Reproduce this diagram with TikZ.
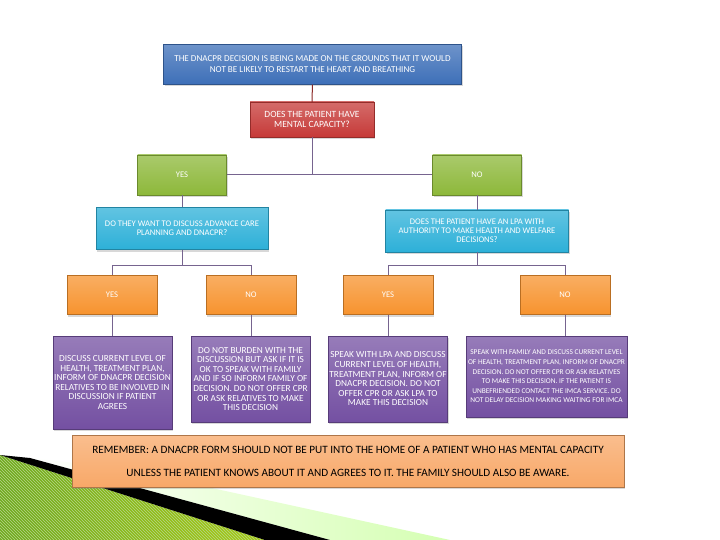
\documentclass[tikz,border=0pt]{standalone}
\usepackage{fontspec}
\setmainfont{Carlito}
\usetikzlibrary{calc, patterns, shadows}

\definecolor{hdblue}{HTML}{3D6FB8}
\definecolor{qred}{HTML}{C63A38}
\definecolor{ansgreen}{HTML}{8DB83A}
\definecolor{qcyan}{HTML}{2DB0D8}
\definecolor{optorange}{HTML}{F7932E}
\definecolor{actpurple}{HTML}{7450A2}
\definecolor{notepeach}{HTML}{F8A868}
\definecolor{link}{HTML}{76648F}
\definecolor{deco}{HTML}{6FAA1E}

\begin{document}
\begin{tikzpicture}[x=1pt, y=-1pt, every node/.style={font=\fontsize{8.6}{9}\selectfont},
  box/.style={draw=#1!75!black, top color=#1!75!white, bottom color=#1, text=white,
    align=center, inner sep=1pt,
    drop shadow={opacity=0.3, shadow xshift=1pt, shadow yshift=-2pt}},
  act/.style={box=actpurple, font=\fontsize{9.3}{9.6}\selectfont},
  wire/.style={link, line width=1pt}]
  \useasboundingbox (0,0) rectangle (720,540);
  \fill[white] (0,0) rectangle (720,540);
  % decoration bottom left
  \shade[left color=white, right color=green!40!lime!30] (30,458) -- (120,468) -- (450,540) -- (330,540) -- cycle;
  \shade[left color=deco, right color=deco!60!yellow] (0,455) -- (265,540) -- (0,540) -- cycle;
  \fill[pattern=north west lines, pattern color=deco!50!white, fill opacity=0.35] (0,455) -- (265,540) -- (0,540) -- cycle;
  \fill[black] (0,455) -- (30,458) -- (330,540) -- (265,540) -- cycle;
  % first question
  \node[box=hdblue, minimum width=298, minimum height=40, font=\fontsize{9.1}{11}\selectfont] (ground) at (312.5,64.5)
    {THE DNACPR DECISION IS BEING MADE ON THE GROUNDS THAT IT WOULD\\NOT BE LIKELY TO RESTART THE HEART AND BREATHING};
  \node[box=qred, minimum width=124, minimum height=35, font=\fontsize{9.5}{10.5}\selectfont] (cap) at (312,119.5)
    {DOES THE PATIENT HAVE\\MENTAL CAPACITY?};
  \node[box=ansgreen, minimum width=89, minimum height=40] (capyes) at (182,175) {YES};
  \node[box=ansgreen, minimum width=89, minimum height=40] (capno) at (477,175) {NO};
  % second questions
  \node[box=qcyan, minimum width=172, minimum height=42] (want) at (182,228.5)
    {DO THEY WANT TO DISCUSS ADVANCE CARE\\PLANNING AND DNACPR?};
  \node[box=qcyan, minimum width=183, minimum height=42] (lpa) at (477,231)
    {DOES THE PATIENT HAVE AN LPA WITH\\AUTHORITY TO MAKE HEALTH AND WELFARE\\DECISIONS?};
  \node[box=optorange, minimum width=90, minimum height=39] (wantyes) at (112,295) {YES};
  \node[box=optorange, minimum width=90, minimum height=39] (wantno) at (251,295) {NO};
  \node[box=optorange, minimum width=90, minimum height=39] (lpayes) at (388,295) {YES};
  \node[box=optorange, minimum width=90, minimum height=39] (lpano) at (565,295) {NO};
  % actions
  \node[act, minimum width=119, minimum height=93] (act1) at (112.5,382.5)
    {DISCUSS CURRENT LEVEL OF\\HEALTH, TREATMENT PLAN,\\INFORM OF DNACPR DECISION\\RELATIVES TO BE INVOLVED IN\\DISCUSSION IF PATIENT\\AGREES};
  \node[act, minimum width=119, minimum height=86] (act2) at (250.5,379)
    {DO NOT BURDEN WITH THE\\DISCUSSION BUT ASK IF IT IS\\OK TO SPEAK WITH FAMILY\\AND IF SO INFORM FAMILY OF\\DECISION. DO NOT OFFER CPR\\OR ASK RELATIVES TO MAKE\\THIS DECISION};
  \node[act, minimum width=118, minimum height=86] (act3) at (388,379)
    {SPEAK WITH LPA AND DISCUSS\\CURRENT LEVEL OF HEALTH,\\TREATMENT PLAN, INFORM OF\\DNACPR DECISION. DO NOT\\OFFER CPR OR ASK LPA TO\\MAKE THIS DECISION};
  \node[act, minimum width=161, minimum height=81, font=\fontsize{7.4}{9.6}\selectfont] (act4) at (546.5,376.5)
    {SPEAK WITH FAMILY AND DISCUSS CURRENT LEVEL\\OF HEALTH, TREATMENT PLAN, INFORM OF DNACPR\\DECISION. DO NOT OFFER CPR OR ASK RELATIVES\\TO MAKE THIS DECISION. IF THE PATIENT IS\\UNBEFRIENDED CONTACT THE IMCA SERVICE. DO\\NOT DELAY DECISION MAKING WAITING FOR IMCA};
  % note
  \node[box=notepeach, draw=notepeach!70!black, text=black, minimum width=552, minimum height=52,
    font=\fontsize{11.2}{23}\selectfont] (note) at (348,461)
    {REMEMBER: A DNACPR FORM SHOULD NOT BE PUT INTO THE HOME OF A PATIENT WHO HAS MENTAL CAPACITY\\UNLESS THE PATIENT KNOWS ABOUT IT AND AGREES TO IT. THE FAMILY SHOULD ALSO BE AWARE.};
  % connectors
  \draw[wire, draw=qred!70!black] (ground) -- (cap);
  \draw[wire] (cap) -- (cap |- capyes);
  \draw[wire] (capyes) -- (capno);
  \draw[wire] (capyes) -- (want);
  \draw[wire] (capno) -- (lpa);
  \draw[wire] (want.south) -- ++(0,16) -| (wantyes.north);
  \draw[wire] (want.south) ++(0,16) -| (wantno.north);
  \draw[wire] (lpa.south) -- ++(0,13) -| (lpayes.north);
  \draw[wire] (lpa.south) ++(0,13) -| (lpano.north);
  \draw[wire] (wantyes) -- (wantyes |- act1.north);
  \draw[wire] (wantno) -- (wantno |- act2.north);
  \draw[wire] (lpayes) -- (lpayes |- act3.north);
  \draw[wire] (lpano) -- (lpano |- act4.north);
\end{tikzpicture}
\end{document}
